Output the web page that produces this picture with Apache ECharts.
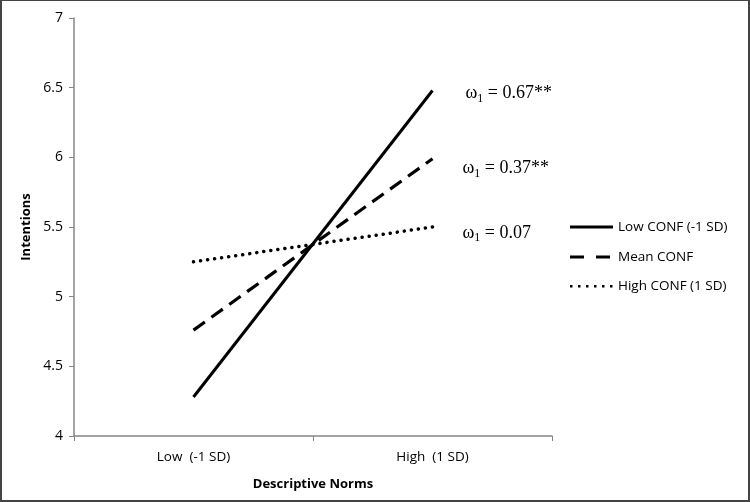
<!DOCTYPE html>
<html>
<head>
<meta charset="utf-8">
<script src="https://cdn.jsdelivr.net/npm/echarts@6/dist/echarts.min.js"></script>
<style>
  html, body { margin: 0; padding: 0; background: #fff; }
  #frame { width: 750px; height: 502px; box-sizing: border-box; border: 2px solid #444; border-top-width: 1px; }
  #chart { width: 746px; height: 499px; }
</style>
</head>
<body>
<div id="frame"><div id="chart"></div></div>
<script>
// categories on the x axis
const categories = ['Low  (-1 SD)', 'High  (1 SD)']
// series values
const lowConf = [4.28, 6.48]
const meanConf = [4.76, 5.99]
const highConf = [5.25, 5.50]
// slope annotations shown at the right end of each line
const slopeLabels = ['0.67**', '0.37**', '0.07']
const seriesNames = ['Low CONF (-1 SD)', 'Mean CONF', 'High CONF (1 SD)']

// legend swatches: solid bar, two dashes, six dots
const legendIcons = [
  'path://M0,0H43V3H0Z',
  'path://M0,0H14V3H0Z M26,0H40V3H26Z M42.99,0H43V0.01H42.99Z',
  'path://M0,0.5H2.5V3H0Z M8,0.5H10.5V3H8Z M16,0.5H18.5V3H16Z M24,0.5H26.5V3H24Z M32,0.5H34.5V3H32Z M40,0.5H42.5V3H40Z M42.99,0H43V0.01H42.99Z',
]

const axisFont = { fontFamily: 'Open Sans', fontSize: 13.5, color: '#000' }
const annoRich = {
  w: { fontFamily: 'Liberation Serif', fontSize: 18, color: '#000' },
  s: { fontFamily: 'Liberation Serif', fontSize: 12, color: '#000', padding: [10, 0, 0, 0] },
  v: { fontFamily: 'Liberation Serif', fontSize: 18, color: '#000' },
}

const makeSeries = (name, data, lineType, cap, width, label, offset) => ({
  name,
  type: 'line',
  data,
  symbol: 'none',
  lineStyle: { color: '#000', width, type: lineType, cap },
  itemStyle: { color: '#000' },
  endLabel: { show: true, offset, formatter: '{w|ω}{s|1}{v| = ' + label + '}', rich: annoRich },
  emphasis: { disabled: true },
  animation: false,
})

const chart = echarts.init(document.getElementById('chart'))
const legendBase = {
  left: 568, padding: 0, itemWidth: 43, itemHeight: 3,
  textStyle: { fontFamily: 'Open Sans', fontSize: 13.5, color: '#000' },
  itemGap: 6, selectedMode: false,
}
chart.setOption({
  animation: false,
  grid: { left: 72, right: 196, top: 17, bottom: 64 },
  legend: [
    { ...legendBase, top: 219, data: [{ name: seriesNames[0], icon: legendIcons[0] }] },
    { ...legendBase, top: 249, data: [{ name: seriesNames[1], icon: legendIcons[1] }] },
    { ...legendBase, top: 278, data: [{ name: seriesNames[2], icon: legendIcons[2] }] },
  ],
  xAxis: {
    type: 'category',
    data: categories,
    name: 'Descriptive Norms',
    nameLocation: 'middle',
    nameGap: 42,
    nameTextStyle: { fontFamily: 'Open Sans', fontSize: 13, fontWeight: 'bold', color: '#000' },
    axisLine: { lineStyle: { color: '#868686', width: 1.5 } },
    axisTick: { show: true, length: 5, lineStyle: { color: '#868686' } },
    axisLabel: { ...axisFont, margin: 14 },
  },
  yAxis: {
    type: 'value',
    min: 4, max: 7, interval: 0.5,
    name: 'Intentions',
    nameLocation: 'middle',
    nameGap: 40,
    nameTextStyle: { fontFamily: 'Open Sans', fontSize: 13, fontWeight: 'bold', color: '#000' },
    axisLine: { show: true, lineStyle: { color: '#868686', width: 1.5 } },
    axisTick: { show: true, length: 5, lineStyle: { color: '#868686' } },
    axisLabel: { ...axisFont, fontSize: 14, margin: 11 },
    splitLine: { show: false },
  },
  series: [
    makeSeries(seriesNames[0], lowConf, 'solid', 'butt', 3, slopeLabels[0], [25, 3]),
    makeSeries(seriesNames[1], meanConf, [14, 8], 'butt', 3.2, slopeLabels[1], [22, 10]),
    makeSeries(seriesNames[2], highConf, [0.1, 7], 'round', 3.5, slopeLabels[2], [22, 6]),
  ],
})
</script>
</body>
</html>
